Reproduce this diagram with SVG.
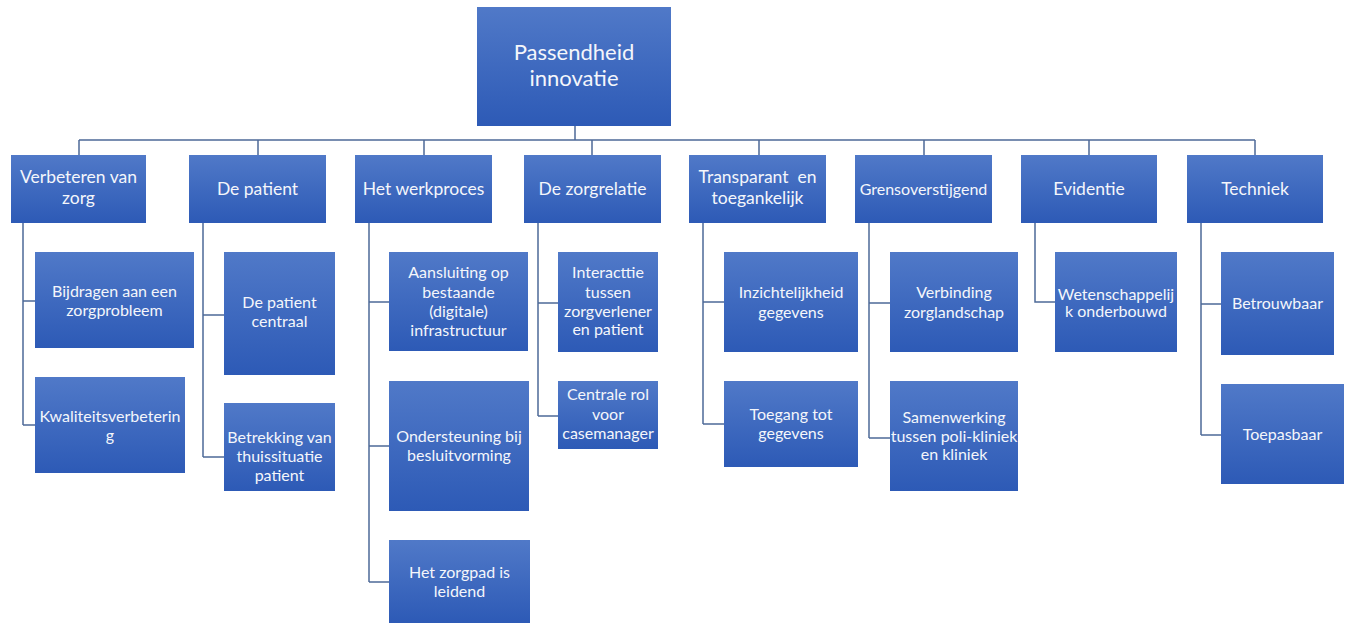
<svg xmlns="http://www.w3.org/2000/svg" width="1352" height="623" viewBox="0 0 1352 623">
  <defs>
    <linearGradient id="boxFill" x1="0" y1="0" x2="0" y2="1">
      <stop offset="0" stop-color="#5079c8"/>
      <stop offset="1" stop-color="#2d5ab6"/>
    </linearGradient>
    <style>
      .box { fill: url(#boxFill); }
      .lbl { font-family: Lato, "Liberation Sans", sans-serif; fill: #f4f6fb; text-anchor: middle; font-size: 16px; }
      .top { font-size: 17.5px; }
      .root { font-size: 22px; }
      .wire { fill: none; stroke: #4d6a98; stroke-width: 1.5; }
    </style>
  </defs>
  <rect width="1352" height="623" fill="#ffffff"/>

  <!-- connectors -->
  <g id="connectors" class="wire">
    <path d="M575 126 V140 M79 140 H1255"/>
    <path d="M79 140 V155 M258 140 V155 M424 140 V155 M592 140 V155 M759 140 V155 M924 140 V155 M1089 140 V155 M1255 140 V155"/>
    <path d="M23 223 V425 M23 301 H35 M23 425 H35"/>
    <path d="M203 223 V457 M203 315 H224 M203 457 H224"/>
    <path d="M369 223 V582 M369 302 H389 M369 446 H389 M369 582 H389"/>
    <path d="M538 223 V416 M538 303 H558 M538 416 H558"/>
    <path d="M703 223 V424 M703 302 H724 M703 424 H724"/>
    <path d="M869 223 V438 M869 303 H890 M869 438 H890"/>
    <path d="M1035 223 V302 H1055"/>
    <path d="M1201 223 V435 M1201 304 H1221 M1201 435 H1221"/>
  </g>

  <!-- root -->
  <g id="root">
    <rect class="box" x="477" y="7" width="194" height="119"/>
    <text class="lbl root" x="574" y="60">Passendheid</text>
    <text class="lbl root" x="574" y="86">innovatie</text>
  </g>

  <!-- first level -->
  <g id="verbeteren">
    <rect class="box" x="11" y="155" width="135" height="68"/>
    <text class="lbl top" x="78.5" y="183">Verbeteren van</text>
    <text class="lbl top" x="78.5" y="204">zorg</text>
  </g>
  <g id="patient">
    <rect class="box" x="189" y="155" width="137" height="68"/>
    <text class="lbl top" x="257.5" y="195">De patient</text>
  </g>
  <g id="werkproces">
    <rect class="box" x="355" y="155" width="137" height="68"/>
    <text class="lbl top" x="423.5" y="195">Het werkproces</text>
  </g>
  <g id="zorgrelatie">
    <rect class="box" x="524" y="155" width="137" height="68"/>
    <text class="lbl top" x="592.5" y="195">De zorgrelatie</text>
  </g>
  <g id="transparant">
    <rect class="box" x="689" y="155" width="137" height="68"/>
    <text class="lbl top" x="757.5" y="183" xml:space="preserve">Transparant  en</text>
    <text class="lbl top" x="757.5" y="204">toegankelijk</text>
  </g>
  <g id="grensoverstijgend">
    <rect class="box" x="855" y="155" width="137" height="68"/>
    <text class="lbl" x="923.5" y="195">Grensoverstijgend</text>
  </g>
  <g id="evidentie">
    <rect class="box" x="1021" y="155" width="136" height="68"/>
    <text class="lbl top" x="1089" y="195">Evidentie</text>
  </g>
  <g id="techniek">
    <rect class="box" x="1187" y="155" width="136" height="68"/>
    <text class="lbl top" x="1255" y="195">Techniek</text>
  </g>

  <!-- second level -->
  <g id="bijdragen">
    <rect class="box" x="35" y="252" width="159" height="96"/>
    <text class="lbl" x="114.5" y="297">Bijdragen aan een</text>
    <text class="lbl" x="114.5" y="316">zorgprobleem</text>
  </g>
  <g id="kwaliteit">
    <rect class="box" x="35" y="377" width="150" height="96"/>
    <text class="lbl" x="110" y="422">Kwaliteitsverbeterin</text>
    <text class="lbl" x="110" y="441">g</text>
  </g>
  <g id="patient-centraal">
    <rect class="box" x="224" y="252" width="111" height="123"/>
    <text class="lbl" x="279.5" y="308">De patient</text>
    <text class="lbl" x="279.5" y="327">centraal</text>
  </g>
  <g id="betrekking">
    <rect class="box" x="224" y="403" width="111" height="88"/>
    <text class="lbl" x="279.5" y="443">Betrekking van</text>
    <text class="lbl" x="279.5" y="462">thuissituatie</text>
    <text class="lbl" x="279.5" y="481">patient</text>
  </g>
  <g id="aansluiting">
    <rect class="box" x="389" y="252" width="139" height="99"/>
    <text class="lbl" x="458.5" y="278">Aansluiting op</text>
    <text class="lbl" x="458.5" y="298">bestaande</text>
    <text class="lbl" x="458.5" y="317">(digitale)</text>
    <text class="lbl" x="458.5" y="336">infrastructuur</text>
  </g>
  <g id="ondersteuning">
    <rect class="box" x="389" y="381" width="140" height="130"/>
    <text class="lbl" x="459" y="442">Ondersteuning bij</text>
    <text class="lbl" x="459" y="461">besluitvorming</text>
  </g>
  <g id="zorgpad">
    <rect class="box" x="389" y="540" width="141" height="83"/>
    <text class="lbl" x="459.5" y="578">Het zorgpad is</text>
    <text class="lbl" x="459.5" y="597">leidend</text>
  </g>
  <g id="interactie">
    <rect class="box" x="558" y="252" width="100" height="100"/>
    <text class="lbl" x="608" y="278">Interacttie</text>
    <text class="lbl" x="608" y="298">tussen</text>
    <text class="lbl" x="608" y="317">zorgverlener</text>
    <text class="lbl" x="608" y="335">en patient</text>
  </g>
  <g id="casemanager">
    <rect class="box" x="558" y="381" width="100" height="68"/>
    <text class="lbl" x="608" y="400">Centrale rol</text>
    <text class="lbl" x="608" y="420">voor</text>
    <text class="lbl" x="608" y="439">casemanager</text>
  </g>
  <g id="inzichtelijkheid">
    <rect class="box" x="724" y="252" width="134" height="100"/>
    <text class="lbl" x="791" y="298">Inzichtelijkheid</text>
    <text class="lbl" x="791" y="318">gegevens</text>
  </g>
  <g id="toegang">
    <rect class="box" x="724" y="381" width="134" height="86"/>
    <text class="lbl" x="791" y="420">Toegang tot</text>
    <text class="lbl" x="791" y="439">gegevens</text>
  </g>
  <g id="verbinding">
    <rect class="box" x="890" y="252" width="128" height="100"/>
    <text class="lbl" x="954" y="298">Verbinding</text>
    <text class="lbl" x="954" y="318">zorglandschap</text>
  </g>
  <g id="samenwerking">
    <rect class="box" x="890" y="381" width="128" height="110"/>
    <text class="lbl" x="954" y="423">Samenwerking</text>
    <text class="lbl" x="954" y="442">tussen poli-kliniek</text>
    <text class="lbl" x="954" y="460">en kliniek</text>
  </g>
  <g id="wetenschappelijk">
    <rect class="box" x="1055" y="252" width="122" height="100"/>
    <text class="lbl" x="1116" y="300">Wetenschappelij</text>
    <text class="lbl" x="1116" y="317">k onderbouwd</text>
  </g>
  <g id="betrouwbaar">
    <rect class="box" x="1221" y="252" width="113" height="103"/>
    <text class="lbl" x="1277.5" y="309">Betrouwbaar</text>
  </g>
  <g id="toepasbaar">
    <rect class="box" x="1221" y="384" width="123" height="100"/>
    <text class="lbl" x="1282.5" y="440">Toepasbaar</text>
  </g>
</svg>
